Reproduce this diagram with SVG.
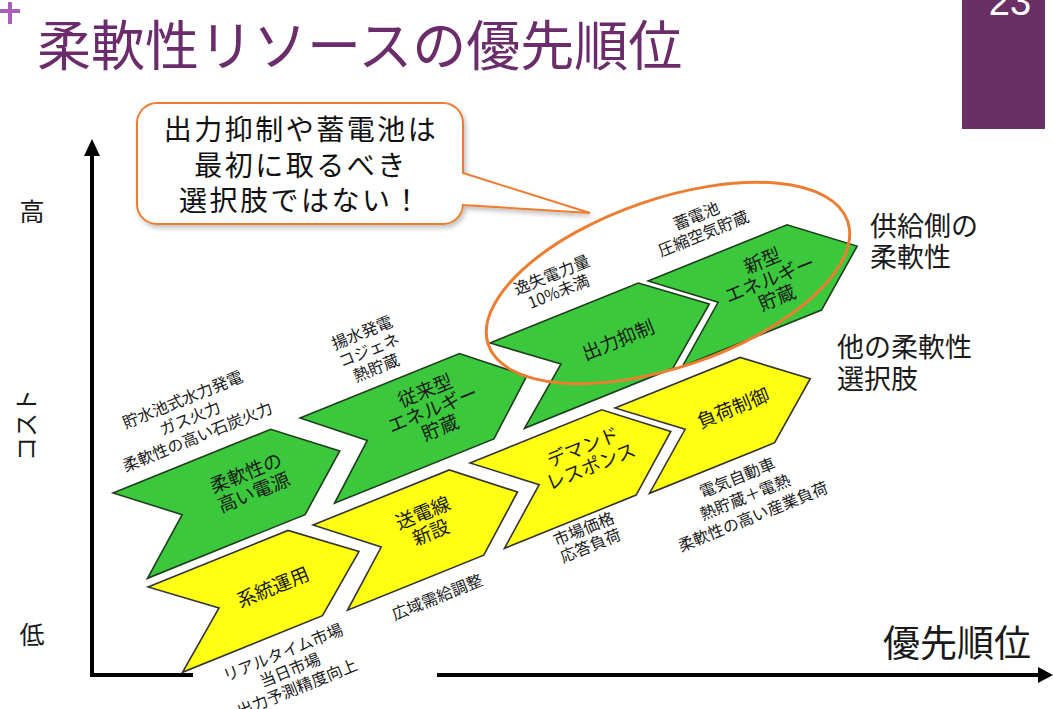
<svg xmlns="http://www.w3.org/2000/svg" width="1053" height="709" viewBox="0 0 1053 709">
<defs>
<style>
text{font-family:"Noto Sans CJK JP","Noto Sans",sans-serif;fill:#1a1a1a}
.g{fill:#3cc83c;stroke:#1e3d1e;stroke-width:1.6;stroke-linejoin:miter}
.y{fill:#ffff14;stroke:#333;stroke-width:1.6}
.ct{font-size:19px;text-anchor:middle}
.lb{font-size:16px;text-anchor:middle}
.rl{font-size:27px}
.ax{stroke:#000;stroke-width:4;fill:none}
</style>
<filter id="sh" x="-10%" y="-10%" width="130%" height="130%">
<feGaussianBlur in="SourceAlpha" stdDeviation="2.5"/>
<feOffset dx="2" dy="3" result="b"/>
<feComponentTransfer><feFuncA type="linear" slope="0.25"/></feComponentTransfer>
<feMerge><feMergeNode/><feMergeNode in="SourceGraphic"/></feMerge>
</filter>
</defs>
<rect width="1053" height="709" fill="#fff"/>

<g id="header">
<rect x="0" y="9" width="20" height="4" fill="#a860b8"/>
<rect x="8" y="2" width="4" height="22" fill="#a860b8"/>
<text x="37" y="66" style="font-size:54px;fill:#6b2c6b">柔軟性リソースの優先順位</text>
<rect x="962" y="0" width="83" height="129" fill="#6a3065"/>
<text x="1010" y="15" style="font-family:'Liberation Sans',sans-serif;font-size:38px;fill:#fff;text-anchor:middle">23</text>
</g>

<g id="axes">
<line class="ax" x1="92" y1="152" x2="92" y2="675"/>
<polygon points="92,139 84,156 100,156" fill="#000"/>
<line class="ax" x1="90" y1="675" x2="193" y2="675"/>
<line class="ax" x1="437" y1="675" x2="1042" y2="675"/>
<polygon points="1053,675 1038,667 1038,683" fill="#000"/>
<text x="32" y="221" style="font-size:25px;text-anchor:middle">高</text>
<text transform="translate(35,425) rotate(-90)" style="font-size:24px;text-anchor:middle">コスト</text>
<text x="32" y="644" style="font-size:25px;text-anchor:middle">低</text>
<text x="883" y="657" style="font-size:37px">優先順位</text>
</g>

<g id="yellow1" transform="translate(148,587) rotate(-22)">
<polygon class="y" points="0,0 151,0 209,46 151,92 0,92 58,46"/>
</g>
<g id="yellow2" transform="translate(313,525) rotate(-22)">
<polygon class="y" points="0,0 147,0 202,46 147,92 0,92 55,46"/>
</g>
<g id="yellow3" transform="translate(470,463) rotate(-22)">
<polygon class="y" points="0,0 142,0 198,46 142,92 0,92 56,46"/>
</g>
<g id="yellow4" transform="translate(615,408) rotate(-22)">
<polygon class="y" points="0,0 135,0 192,46 135,92 0,92 57,46"/>
</g>
<g id="green1" transform="translate(113,493) rotate(-22)">
<polygon class="g" points="0,0 170,0 226,46 170,92 0,92 56,46"/>
</g>
<g id="green2" transform="translate(300,418) rotate(-22)">
<polygon class="g" points="0,0 172,0 226,46 172,92 0,92 54,46"/>
</g>
<g id="green3" transform="translate(490,343) rotate(-22)">
<polygon class="g" points="0,0 160,0 218,46 160,92 0,92 58,46"/>
</g>
<g id="green4" transform="translate(648,281) rotate(-22)">
<polygon class="g" points="0,0 150,0 207,46 150,92 0,92 57,46"/>
</g>

<g id="chevron-labels">
<text class="ct" transform="translate(250,483) rotate(-22)"><tspan x="0" y="-4">柔軟性の</tspan><tspan x="0" y="17">高い電源</tspan></text>
<text class="ct" transform="translate(433,410) rotate(-22)"><tspan x="0" y="-14">従来型</tspan><tspan x="0" y="6">エネルギー</tspan><tspan x="0" y="26">貯蔵</tspan></text>
<text class="ct" transform="translate(618,340) rotate(-22)"><tspan x="0" y="7">出力抑制</tspan></text>
<text class="ct" transform="translate(770,280) rotate(-22)"><tspan x="0" y="-14">新型</tspan><tspan x="0" y="6">エネルギー</tspan><tspan x="0" y="26">貯蔵</tspan></text>
<text class="ct" transform="translate(273,587) rotate(-22)"><tspan x="0" y="7">系統運用</tspan></text>
<text class="ct" transform="translate(427,523) rotate(-22)"><tspan x="0" y="-4">送電線</tspan><tspan x="0" y="17">新設</tspan></text>
<text class="ct" transform="translate(587,457) rotate(-22)"><tspan x="0" y="-4">デマンド</tspan><tspan x="0" y="17">レスポンス</tspan></text>
<text class="ct" transform="translate(733,408) rotate(-22)"><tspan x="0" y="7">負荷制御</tspan></text>
</g>

<g id="side-labels">
<text class="lb" transform="translate(190,418) rotate(-22)"><tspan x="0" y="-14">貯水池式水力発電</tspan><tspan x="0" y="6">ガス火力</tspan><tspan x="0" y="26">柔軟性の高い石炭火力</tspan></text>
<text class="lb" transform="translate(369,350) rotate(-22)"><tspan x="0" y="-13">揚水発電</tspan><tspan x="0" y="6">コジェネ</tspan><tspan x="0" y="25">熱貯蔵</tspan></text>
<text class="lb" transform="translate(555,283) rotate(-22)"><tspan x="0" y="-3">逸失電力量</tspan><tspan x="0" y="15">10%未満</tspan></text>
<text class="lb" transform="translate(700,225) rotate(-22)"><tspan x="0" y="-4">蓄電池</tspan><tspan x="0" y="15">圧縮空気貯蔵</tspan></text>
<text class="lb" transform="translate(437,597) rotate(-22)"><tspan x="0" y="6">広域需給調整</tspan></text>
<text class="lb" transform="translate(290,670) rotate(-22)"><tspan x="0" y="-13">リアルタイム市場</tspan><tspan x="0" y="6">当日市場</tspan><tspan x="0" y="25">出力予測精度向上</tspan></text>
<text class="lb" transform="translate(587,537) rotate(-22)"><tspan x="0" y="-3">市場価格</tspan><tspan x="0" y="15">応答負荷</tspan></text>
<text class="lb" transform="translate(745,497) rotate(-22)"><tspan x="0" y="-15">電気自動車</tspan><tspan x="0" y="6">熱貯蔵＋電熱</tspan><tspan x="0" y="27">柔軟性の高い産業負荷</tspan></text>
<text class="rl" x="870" y="236">供給側の</text>
<text class="rl" x="870" y="267">柔軟性</text>
<text class="rl" x="837" y="357">他の柔軟性</text>
<text class="rl" x="837" y="389">選択肢</text>
</g>

<g id="highlight">
<ellipse cx="668" cy="283" rx="190" ry="84" transform="rotate(-19 668 283)" fill="none" stroke="#ed7d31" stroke-width="3"/>
</g>

<g id="callout">
<path d="M157,103 H443 A20,20 0 0 1 463,123 V173 L590,213 L463,205 V204 A20,20 0 0 1 443,224 H157 A20,20 0 0 1 137,204 V123 A20,20 0 0 1 157,103 Z" fill="#fff" stroke="#ed7d31" stroke-width="2" filter="url(#sh)"/>
<text style="font-size:28px;text-anchor:middle;letter-spacing:2.5px;fill:#111"><tspan x="301" y="140">出力抑制や蓄電池は</tspan><tspan x="301" y="176">最初に取るべき</tspan><tspan x="301" y="211">選択肢ではない！</tspan></text>
</g>
</svg>
